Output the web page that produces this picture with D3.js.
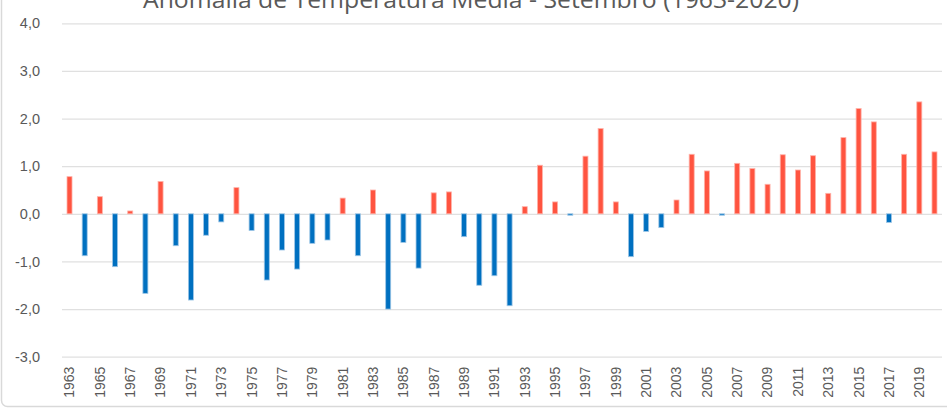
<html>
  <head>
    <meta charset="utf-8">
    <title>Anomalia de Temperatura Média - Setembro</title>
    <style>
      body {
          margin: 0;
          background: #fff;
      }
      svg {
          font-family: "Open Sans", sans-serif;
      }
      .title {
          text-anchor: middle;
          fill: #595959;
      }
      .tick text {
          fill: #595959;
      }
    </style>
  </head>
  <body>
    <script src="https://cdn.jsdelivr.net/npm/d3@7/dist/d3.min.js"></script>
    <svg id="chart" width="947" height="409"></svg>
    <script type="text/javascript">
// Values, one per year
var years = d3.range(1963, 2021);
var anomalies = [
  0.78, -0.88, 0.36, -1.11, 0.06, -1.67, 0.68, -0.67, -1.81, -0.45,
  -0.17, 0.55, -0.35, -1.39, -0.76, -1.16, -0.62, -0.55, 0.33, -0.88,
  0.50, -2.00, -0.60, -1.14, 0.44, 0.46, -0.48, -1.50, -1.30, -1.93,
  0.15, 1.02, 0.25, -0.03, 1.21, 1.79, 0.25, -0.90, -0.37, -0.29,
  0.29, 1.25, 0.90, -0.03, 1.06, 0.95, 0.62, 1.24, 0.92, 1.22,
  0.43, 1.60, 2.21, 1.93, -0.18, 1.25, 2.35, 1.30
];
var yTicks = [-3, -2, -1, 0, 1, 2, 3, 4];
var titleText = "Anomalia de Temperatura Média - Setembro (1963-2020)";

var data = years.map((y, i) => ({ year: y, value: anomalies[i] }));

var svg = d3.select("#chart");

// chart border, cropped at top and right like the original screenshot
svg.append("rect")
    .attr("x", 1.5).attr("y", -20)
    .attr("width", 970).attr("height", 426.5)
    .attr("rx", 6)
    .attr("fill", "none")
    .attr("stroke", "#d9d9d9")
    .attr("stroke-width", 1.5);

var x = d3.scaleBand()
    .domain(years)
    .range([62, 942])
    .paddingInner(0.67)
    .paddingOuter(0.33);

var y = d3.scaleLinear()
    .domain([-3, 4])
    .range([356.7, 23.3]);

// gridlines + y labels
var yAxis = svg.append("g")
    .attr("transform", "translate(62,0)")
    .call(d3.axisLeft(y)
        .tickValues(yTicks)
        .tickSize(-880)
        .tickPadding(22)
        .tickFormat(d => d3.format(".1f")(d).replace(".", ",").replace("−", "-")));
yAxis.select(".domain").remove();
yAxis.selectAll(".tick line")
    .attr("stroke", "#e0e0e0")
    .attr("stroke-width", 1.3);
yAxis.selectAll(".tick text")
    .attr("font-size", 14.5);

// bars
svg.append("g").selectAll("rect")
  .data(data)
  .enter().append("rect")
    .attr("x", d => x(d.year))
    .attr("width", x.bandwidth())
    .attr("y", d => y(Math.max(0, d.value)))
    .attr("height", d => Math.max(1, Math.abs(y(d.value) - y(0))))
    .attr("fill", d => d.value >= 0 ? "#ff5440" : "#0070c0")
    .attr("stroke", d => d.value >= 0 ? "#ffb3aa" : "#9dc6e6")
    .attr("stroke-width", 0.8);

// x axis labels (every other year)
var xAxis = svg.append("g")
    .attr("transform", "translate(0,356.7)")
    .call(d3.axisBottom(x)
        .tickValues(years.filter((d, i) => i % 2 == 0))
        .tickSize(0)
        .tickPadding(0));
xAxis.select(".domain").remove();
xAxis.selectAll(".tick text")
    .attr("font-size", 14)
    .attr("transform", "rotate(-90)")
    .attr("text-anchor", "end")
    .attr("x", -10)
    .attr("y", 0)
    .attr("dy", "0.35em");

// title, cut off at the top edge as in the source image
svg.append("text")
    .attr("class", "title")
    .attr("x", 471)
    .attr("y", 8)
    .attr("font-size", 24)
    .attr("textLength", 656)
    .attr("lengthAdjust", "spacingAndGlyphs")
    .text(titleText);
    </script>
  </body>
</html>
